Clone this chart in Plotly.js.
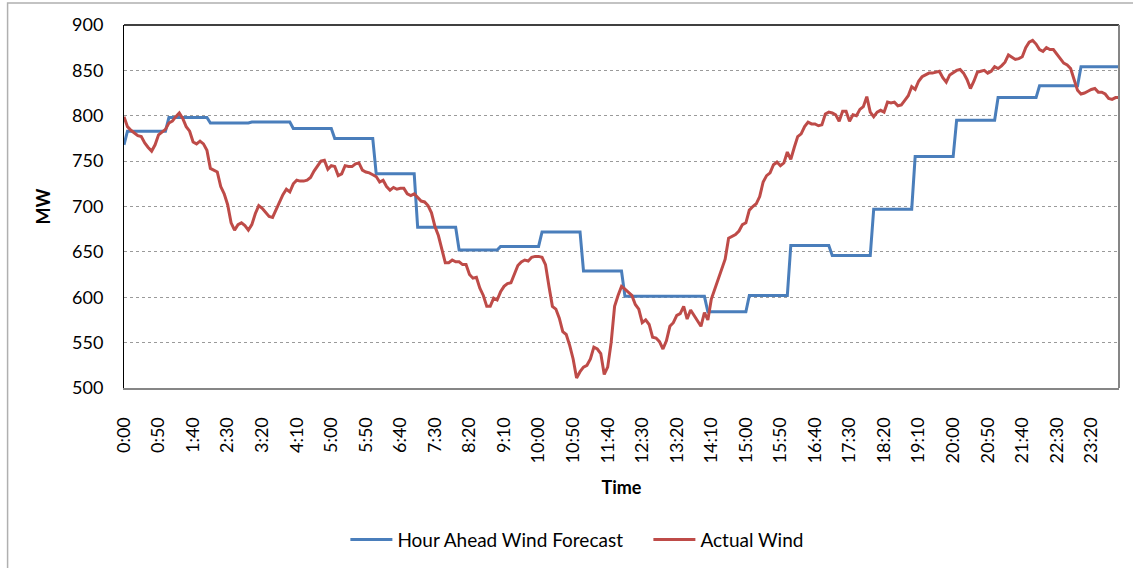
<!DOCTYPE html>
<html>
<head>
<meta charset="utf-8">
<script src="https://cdn.plot.ly/plotly-3.0.1.min.js"></script>
<style>html,body{margin:0;padding:0;background:#fff;}#chart{width:1133px;height:568px;}</style>
</head>
<body>
<div id="chart"></div>
<script>
// Tick labels shown every 10th 5‑minute interval
var tickLabels = ["0:00","0:50","1:40","2:30","3:20","4:10","5:00","5:50","6:40","7:30","8:20","9:10","10:00","10:50","11:40","12:30","13:20","14:10","15:00","15:50","16:40","17:30","18:20","19:10","20:00","20:50","21:40","22:30","23:20"];

// Hour Ahead Wind Forecast (MW), 5‑minute samples
var forecast = [
768,783,783,783,783,783,783,783,783,783,783,783,783,
798,798,798,798,798,798,798,798,798,798,798,798,
792,792,792,792,792,792,792,792,792,792,792,792,
793,793,793,793,793,793,793,793,793,793,793,793,
786,786,786,786,786,786,786,786,786,786,786,786,
775,775,775,775,775,775,775,775,775,775,775,775,
736,736,736,736,736,736,736,736,736,736,736,736,
677,677,677,677,677,677,677,677,677,677,677,677,
652,652,652,652,652,652,652,652,652,652,652,652,
656,656,656,656,656,656,656,656,656,656,656,656,
672,672,672,672,672,672,672,672,672,672,672,672,
629,629,629,629,629,629,629,629,629,629,629,629,
601,601,601,601,601,601,601,601,601,601,601,601,
601,601,601,601,601,601,601,601,601,601,601,601,
584,584,584,584,584,584,584,584,584,584,584,584,
602,602,602,602,602,602,602,602,602,602,602,602,
657,657,657,657,657,657,657,657,657,657,657,657,
646,646,646,646,646,646,646,646,646,646,646,646,
697,697,697,697,697,697,697,697,697,697,697,697,
755,755,755,755,755,755,755,755,755,755,755,755,
795,795,795,795,795,795,795,795,795,795,795,795,
820,820,820,820,820,820,820,820,820,820,820,820,
833,833,833,833,833,833,833,833,833,833,833,833,
854,854,854,854,854,854,854,854,854,854,854,854
];

// Actual Wind (MW), 5‑minute samples
var actual = [
799,788,784,781,778,777,770,765,761,768,779,782,785,792,794,799,803,797,788,783,
771,769,772,769,762,742,740,738,722,714,702,682,674,680,682,679,674,680,692,701,
698,694,689,688,696,705,713,719,716,725,729,728,728,729,732,739,745,750,751,741,
745,744,734,736,745,744,744,747,748,740,738,737,735,733,727,729,722,718,721,719,
720,720,714,712,714,710,706,705,701,693,678,668,652,638,638,641,639,639,636,636,
625,621,622,610,602,590,590,599,597,606,612,615,616,625,635,639,641,640,644,645,
645,644,636,612,590,587,577,562,559,547,532,511,518,523,525,532,545,543,538,515,
523,550,590,602,612,609,606,602,592,587,572,575,570,556,555,551,543,552,568,572,
580,582,590,576,586,580,573,568,583,575,598,609,618,629,642,665,667,669,673,680,
682,696,700,703,711,727,734,737,746,749,745,748,760,752,765,777,780,788,793,791,
791,789,790,802,804,803,801,794,805,805,794,801,800,807,810,821,804,799,804,806,
804,815,814,815,811,812,817,822,832,829,838,843,845,847,847,848,849,842,837,845,
848,850,851,847,840,830,838,848,849,850,847,849,854,852,855,859,867,864,862,863,
865,875,881,883,879,873,871,875,873,873,868,863,858,856,852,840,828,824,825,827,
829,830,826,826,824,819,818,820,820
];

var xIdx = actual.map(function(_, i){ return i; });
var tickVals = tickLabels.map(function(_, k){ return k * 10; });

var FONT = "Lato, 'Liberation Sans', sans-serif";

var traces = [
  {x: xIdx, y: forecast, type: 'scatter', mode: 'lines', name: 'Hour Ahead Wind Forecast',
   line: {color: '#4A7EBB', width: 3}},
  {x: xIdx, y: actual, type: 'scatter', mode: 'lines', name: 'Actual Wind',
   line: {color: '#BE4B48', width: 3}}
];

var layout = {
  width: 1133, height: 568,
  margin: {l: 123.5, r: 14, t: 25, b: 179.7, pad: 0, autoexpand: false},
  paper_bgcolor: '#ffffff', plot_bgcolor: '#ffffff',
  font: {family: FONT, size: 18, color: '#000'},
  showlegend: true,
  legend: {orientation: 'h', x: 0.2225, y: -0.418, xanchor: 'left', yanchor: 'middle',
           itemwidth: 42, entrywidth: 246, entrywidthmode: 'pixels',
           font: {family: FONT, size: 19, color: '#000'}, bgcolor: 'rgba(0,0,0,0)'},
  xaxis: {
    range: [0, 288], tickmode: 'array', tickvals: tickVals, ticktext: tickLabels,
    tickangle: -90, showgrid: false, zeroline: false, automargin: false,
    showline: true, linecolor: '#868686', linewidth: 2,
    ticks: 'outside', ticklen: 20, tickcolor: 'rgba(0,0,0,0)',
    tickfont: {family: FONT, size: 18, color: '#000'},
    title: {text: '<b>Time</b>', font: {family: FONT, size: 18, color: '#000'}, standoff: 19}
  },
  yaxis: {
    range: [500, 900], tickmode: 'array', tickvals: [500,550,600,650,700,750,800,850,900],
    showgrid: true, gridcolor: '#9a9a9a', griddash: 'dot', gridwidth: 1, zeroline: false,
    showline: true, linecolor: '#000', linewidth: 1, automargin: false,
    ticks: 'outside', ticklen: 16, tickcolor: 'rgba(0,0,0,0)',
    tickfont: {family: FONT, size: 18, color: '#000'},
    title: {text: '<b>MW</b>', font: {family: FONT, size: 18, color: '#000'}, standoff: 16}
  },
  shapes: [
    {type: 'rect', xref: 'paper', yref: 'paper', x0: -0.117, x1: 1.05, y0: -0.6, y1: 1.0604,
     line: {color: '#b0b0b0', width: 1.5}, fillcolor: 'rgba(0,0,0,0)', layer: 'below'},
    {type: 'line', xref: 'paper', yref: 'paper', x0: 0, x1: 1, y0: 1, y1: 1,
     line: {color: '#000', width: 1.5}},
    {type: 'line', xref: 'paper', yref: 'paper', x0: 1, x1: 1, y0: 0, y1: 1,
     line: {color: '#868686', width: 2}}
  ]
};

Plotly.newPlot('chart', traces, layout, {displayModeBar: false, staticPlot: true});
</script>
</body>
</html>
